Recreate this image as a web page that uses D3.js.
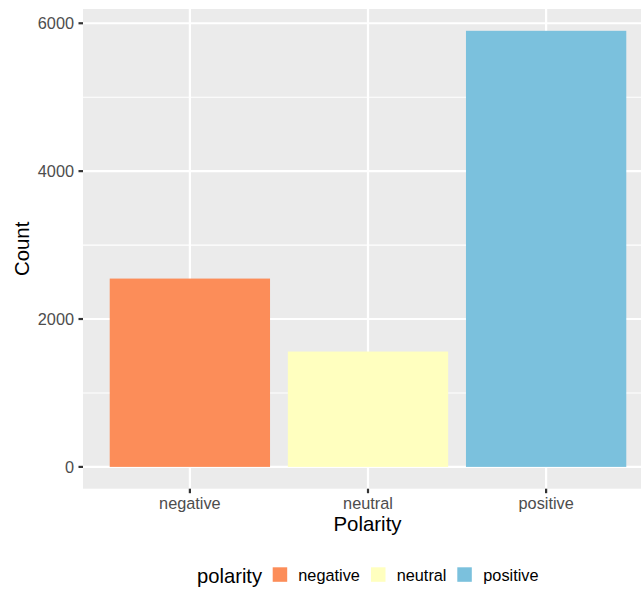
<!DOCTYPE html>
<html><head><meta charset="utf-8">
<script src="https://cdn.jsdelivr.net/npm/d3@7"></script>
<style>body{margin:0;background:#fff}svg{display:block;font-family:"Liberation Sans",Arial,sans-serif}</style>
</head><body>
<svg id="c" width="641" height="590"></svg>
<script>
const categories = ["negative", "neutral", "positive"];
const counts = [2547, 1560, 5898];
const colors = ["#fc8d59", "#ffffbf", "#7bc1dd"];
const yTicks = [0, 2000, 4000, 6000];
const yMinor = [1000, 3000, 5000];
const legendTitle = "polarity";
const xTitle = "Polarity";
const yTitle = "Count";

const svg = d3.select("#c");
const panel = {left: 83, top: 9, right: 653, bottom: 488.7};

const x = d3.scaleLinear().domain([0.4, 3.6]).range([panel.left, panel.right]);
const maxV = d3.max(counts);
const y = d3.scaleLinear().domain([-0.05 * maxV, 1.05 * maxV]).range([panel.bottom, panel.top]);

svg.append("rect").attr("x", panel.left).attr("y", panel.top)
  .attr("width", panel.right - panel.left).attr("height", panel.bottom - panel.top)
  .attr("fill", "#ebebeb");

const g = svg.append("g");
g.selectAll(".ymin").data(yMinor).join("line")
  .attr("x1", panel.left).attr("x2", panel.right)
  .attr("y1", d => y(d)).attr("y2", d => y(d))
  .attr("stroke", "#fff").attr("stroke-width", 1.1);
g.selectAll(".ymaj").data(yTicks).join("line")
  .attr("x1", panel.left).attr("x2", panel.right)
  .attr("y1", d => y(d)).attr("y2", d => y(d))
  .attr("stroke", "#fff").attr("stroke-width", 2.2);
g.selectAll(".xmaj").data(categories).join("line")
  .attr("x1", (d, i) => x(i + 1)).attr("x2", (d, i) => x(i + 1))
  .attr("y1", panel.top).attr("y2", panel.bottom)
  .attr("stroke", "#fff").attr("stroke-width", 2.2);

g.selectAll(".bar").data(counts).join("rect")
  .attr("x", (d, i) => x(i + 1 - 0.45))
  .attr("width", (d, i) => x(i + 1 + 0.45) - x(i + 1 - 0.45))
  .attr("y", d => y(d))
  .attr("height", d => y(0) - y(d))
  .attr("fill", (d, i) => colors[i]);

// Y axis
const yAxis = svg.append("g");
yAxis.selectAll("line").data(yTicks).join("line")
  .attr("x1", panel.left - 4.5).attr("x2", panel.left)
  .attr("y1", d => y(d)).attr("y2", d => y(d))
  .attr("stroke", "#333").attr("stroke-width", 2.2);
yAxis.selectAll("text").data(yTicks).join("text")
  .attr("x", 74).attr("y", d => y(d))
  .attr("dy", "0.35em").attr("text-anchor", "end")
  .attr("font-size", 16.3).attr("fill", "#4d4d4d")
  .text(d => d);

// X axis
const xAxis = svg.append("g");
xAxis.selectAll("line").data(categories).join("line")
  .attr("x1", (d, i) => x(i + 1)).attr("x2", (d, i) => x(i + 1))
  .attr("y1", panel.bottom).attr("y2", panel.bottom + 4.5)
  .attr("stroke", "#333").attr("stroke-width", 2.2);
xAxis.selectAll("text").data(categories).join("text")
  .attr("x", (d, i) => x(i + 1)).attr("y", 508.5)
  .attr("text-anchor", "middle")
  .attr("font-size", 16.3).attr("fill", "#4d4d4d")
  .text(d => d);

svg.append("text").attr("x", 367.5).attr("y", 531.3)
  .attr("text-anchor", "middle").attr("font-size", 20.4).attr("fill", "#000")
  .text(xTitle);
svg.append("text").attr("transform", `translate(29,${(panel.top + panel.bottom) / 2}) rotate(-90)`)
  .attr("text-anchor", "middle").attr("font-size", 20.4).attr("fill", "#000")
  .text(yTitle);

// Legend
const leg = svg.append("g");
leg.append("text").attr("x", 197).attr("y", 582.5).attr("font-size", 20.2).attr("fill", "#000").text(legendTitle);
const keyX = [272.7, 371, 457.3];
const labX = [298.3, 396.7, 483.3];
const lg = leg.selectAll(".k").data(categories).join("g");
lg.append("rect").attr("x", (d, i) => keyX[i]).attr("y", 567.3)
  .attr("width", 14.5).attr("height", 14.5)
  .attr("fill", (d, i) => colors[i]);
lg.append("text").attr("x", (d, i) => labX[i]).attr("y", 580.5)
  .attr("font-size", 16.3).attr("fill", "#000").text(d => d);
</script>
</body></html>
